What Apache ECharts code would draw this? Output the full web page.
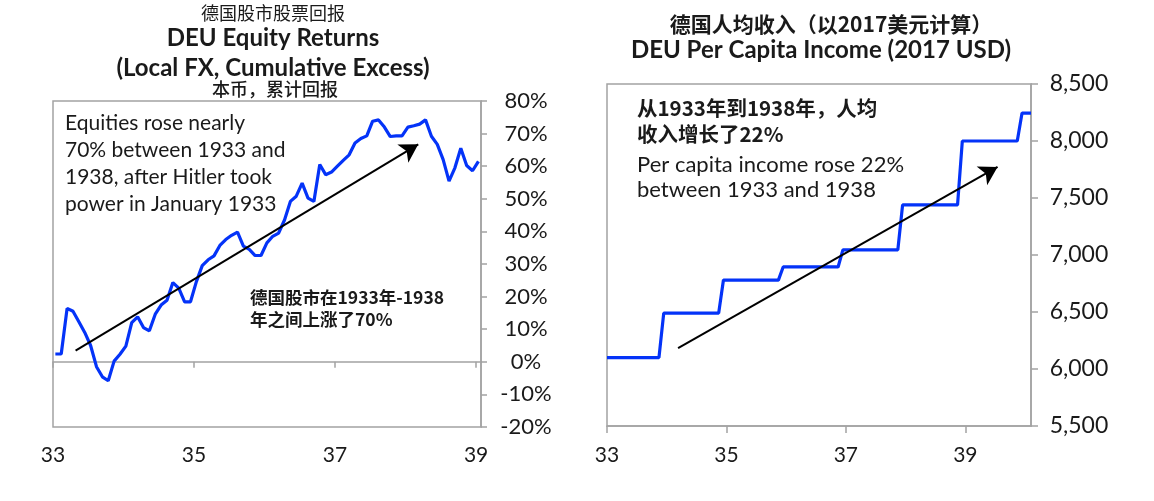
<!DOCTYPE html>
<html>
<head>
<meta charset="utf-8">
<script src="https://cdn.jsdelivr.net/npm/echarts@6/dist/echarts.min.js"></script>
<style>
  html, body { margin: 0; padding: 0; background: #fff; }
  #chart { width: 1154px; height: 501px; }
</style>
</head>
<body>
<div id="chart"></div>
<script>
// 德国股市：1933年1月起的月度累计超额回报 (%)
var equityStartYear = 33
var equityReturns = [
  2.4, 2.4, 16.4, 15.5, 12.3, 9.0, 5.0, -1.5, -4.6, -5.8, 0.2, 2.3,
  4.8, 12.0, 13.8, 10.5, 9.5, 14.6, 17.4, 18.9, 24.3, 22.6, 18.4, 18.4,
  24.6, 29.5, 31.3, 32.5, 35.7, 37.5, 38.8, 39.8, 35.5, 34.5, 32.6, 32.6,
  36.5, 38.5, 39.5, 43.5, 49.2, 50.8, 54.8, 50.2, 49.2, 60.5, 57.4, 58.2,
  60.0, 61.8, 63.5, 67.1, 68.5, 69.3, 73.8, 74.2, 72.0, 69.1, 69.3, 69.3,
  72.0, 72.4, 72.9, 74.2, 69.2, 66.7, 62.0, 55.4, 59.5, 65.5, 60.2, 58.6,
  61.5
]

// 人均收入（2017美元），每年一个值
var incomeYears = [33, 34, 35, 36, 37, 38, 39, 40]
var incomeValues = [6100, 6490, 6780, 6895, 7045, 7440, 8000, 8245]

var yearTicks = [33, 35, 37, 39]

// 箭头（数据坐标）
var equityArrow = [[33.32, 3.4], [38.18, 66.7]]
var incomeArrow = [[34.19, 6184], [39.54, 7772]]

var equityData = equityReturns.map(function (v, i) {
  return [equityStartYear + (i + 0.4) / 12, v]
})

var incomeData = []
incomeYears.forEach(function (y, i) {
  var start = i === 0 ? y : y - 0.05
  var end = Math.min(y + 1 - 0.13, 40.1)
  incomeData.push([start, incomeValues[i]])
  incomeData.push([end, incomeValues[i]])
})

var gray = '#a3a3a3'
var ink = '#1a1a1a'
var latin = 'Lato, "Noto Sans CJK SC", sans-serif'
var cjk = '"Noto Sans CJK SC", Lato, sans-serif'

function txt (x, y, text, size, weight, align, family) {
  return {
    type: 'text',
    x: x,
    y: y,
    style: {
      text: text,
      fill: ink,
      font: (weight || 'normal') + ' ' + size + 'px ' + (family || latin),
      textAlign: align || 'center',
      textVerticalAlign: 'middle'
    }
  }
}

var myChart = echarts.init(document.getElementById('chart'))
myChart.setOption({
  animation: false,
  backgroundColor: '#fff',
  grid: [
    { left: 53, top: 101, width: 428, height: 326, show: true, borderColor: gray, borderWidth: 1.5 },
    { left: 607, top: 84, width: 424, height: 342, show: true, borderColor: gray, borderWidth: 1.5 }
  ],
  xAxis: [
    {
      gridIndex: 0, type: 'value', min: 33, max: 39.07,
      axisLine: { onZero: true, lineStyle: { color: gray, width: 1.5 } },
      axisTick: { show: true, length: 6, customValues: yearTicks, lineStyle: { color: gray, width: 1.5 } },
      axisLabel: { show: false },
      splitLine: { show: false }
    },
    {
      gridIndex: 0, type: 'value', min: 33, max: 39.07, position: 'bottom',
      axisLine: { show: false, onZero: false },
      axisTick: { show: false },
      axisLabel: { customValues: yearTicks, margin: 18, fontSize: 21, color: ink, fontFamily: latin },
      splitLine: { show: false }
    },
    {
      gridIndex: 1, type: 'value', min: 33, max: 40.1,
      axisLine: { onZero: false, lineStyle: { color: gray, width: 1.5 } },
      axisTick: { show: true, length: 7, customValues: yearTicks, lineStyle: { color: gray, width: 1.5 } },
      axisLabel: { customValues: yearTicks, margin: 19, fontSize: 21, color: ink, fontFamily: latin },
      splitLine: { show: false }
    }
  ],
  yAxis: [
    {
      gridIndex: 0, type: 'value', position: 'right', min: -20, max: 80, interval: 10,
      axisLine: { show: true, lineStyle: { color: gray, width: 1.5 } },
      axisTick: { show: true, length: 6, lineStyle: { color: gray, width: 1.5 } },
      axisLabel: { formatter: '{value}%', align: 'center', margin: 45, fontSize: 22, color: ink, fontFamily: latin },
      splitLine: { show: false }
    },
    {
      gridIndex: 1, type: 'value', position: 'right', min: 5500, max: 8500, interval: 500,
      axisLine: { show: true, lineStyle: { color: gray, width: 1.5 } },
      axisTick: { show: true, length: 7, lineStyle: { color: gray, width: 1.5 } },
      axisLabel: {
        formatter: function (v) { return v.toLocaleString('en-US') },
        align: 'center', margin: 48, fontSize: 23, color: ink, fontFamily: latin
      },
      splitLine: { show: false }
    }
  ],
  series: [
    {
      type: 'line', xAxisIndex: 0, yAxisIndex: 0,
      data: equityData, showSymbol: false, symbol: 'none',
      lineStyle: { color: '#0433f8', width: 3.2 },
      markLine: {
        silent: true, symbol: ['none', 'arrow'], symbolSize: [16, 18],
        label: { show: false },
        lineStyle: { color: '#000', width: 2, type: 'solid' },
        data: [[{ coord: equityArrow[0] }, { coord: equityArrow[1] }]]
      }
    },
    {
      type: 'line', xAxisIndex: 2, yAxisIndex: 1,
      data: incomeData, showSymbol: false, symbol: 'none',
      lineStyle: { color: '#0433f8', width: 3.2 },
      markLine: {
        silent: true, symbol: ['none', 'arrow'], symbolSize: [16, 18],
        label: { show: false },
        lineStyle: { color: '#000', width: 2, type: 'solid' },
        data: [[{ coord: incomeArrow[0] }, { coord: incomeArrow[1] }]]
      }
    }
  ],
  graphic: [
    txt(273, 13, '德国股市股票回报', 18, 'normal', 'center', cjk),
    txt(273, 38, 'DEU Equity Returns', 24, 'bold'),
    txt(273, 68, '(Local FX, Cumulative Excess)', 24, 'bold'),
    txt(275, 89, '本币，累计回报', 18, '500', 'center', cjk),
    txt(65, 123, 'Equities rose nearly', 21, 'normal', 'left'),
    txt(65, 150, '70% between 1933 and', 21, 'normal', 'left'),
    txt(65, 177, '1938, after Hitler took', 21, 'normal', 'left'),
    txt(65, 204, 'power in January 1933', 21, 'normal', 'left'),
    txt(250, 297, '德国股市在1933年-1938', 17.5, 'bold', 'left', cjk),
    txt(250, 319, '年之间上涨了70%', 17.5, 'bold', 'left', cjk),
    txt(831, 24, '德国人均收入（以2017美元计算）', 21, 'bold', 'center', cjk),
    txt(821, 50, 'DEU Per Capita Income (2017 USD)', 24, 'bold'),
    txt(637, 108, '从1933年到1938年，人均', 20.5, 'bold', 'left', cjk),
    txt(637, 134, '收入增长了22%', 20.5, 'bold', 'left', cjk),
    txt(637, 165, 'Per capita income rose 22%', 22, 'normal', 'left'),
    txt(637, 190, 'between 1933 and 1938', 22, 'normal', 'left')
  ]
})
</script>
</body>
</html>
